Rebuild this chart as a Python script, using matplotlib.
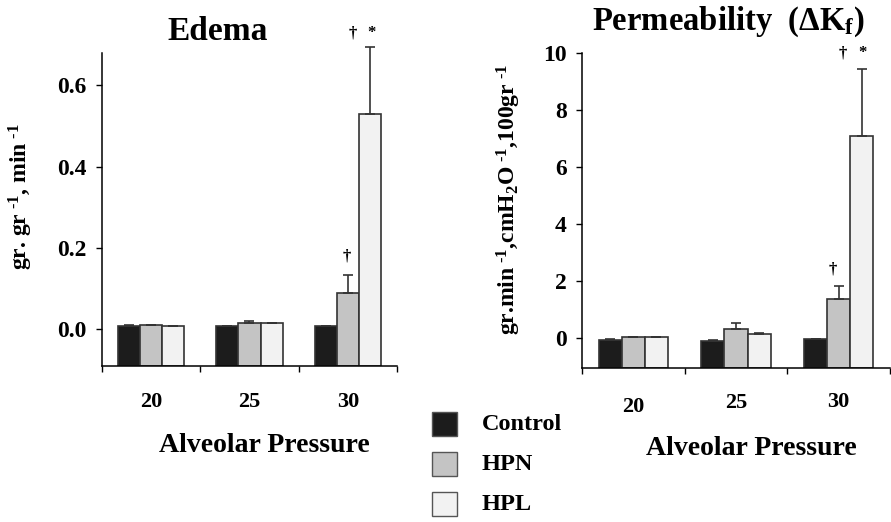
import matplotlib
matplotlib.use("Agg")
import matplotlib.pyplot as plt
import numpy as np

# data
pressures = ["20", "25", "30"]
groups = ["Control", "HPN", "HPL"]
colors = ["#1c1c1c", "#c4c4c4", "#f2f2f2"]

edema = {"Control": [0.007, 0.007, 0.007],
         "HPN": [0.011, 0.016, 0.090],
         "HPL": [0.007, 0.016, 0.529]}
edema_err = {"Control": [0.003, 0.0, 0.0],
             "HPN": [0.0, 0.004, 0.043],
             "HPL": [0.0, 0.0, 0.166]}

perm = {"Control": [-0.05, -0.09, -0.03],
        "HPN": [0.03, 0.32, 1.37],
        "HPL": [0.03, 0.14, 7.10]}
perm_err = {"Control": [0.02, 0.02, 0.02],
            "HPN": [0.03, 0.23, 0.47],
            "HPL": [0.03, 0.06, 2.35]}

plt.rcParams['font.family'] = 'Liberation Serif'
plt.rcParams['font.weight'] = 'bold'
plt.rcParams['mathtext.fontset'] = 'custom'
plt.rcParams['mathtext.rm'] = 'Liberation Serif:bold'
plt.rcParams['mathtext.it'] = 'Liberation Serif:bold'
plt.rcParams['mathtext.bf'] = 'Liberation Serif:bold'

fig = plt.figure(figsize=(8.91, 5.22), dpi=100)
ax1 = fig.add_axes([0.1145, 0.299, 0.331, 0.6])
ax2 = fig.add_axes([0.653, 0.2945, 0.346, 0.6035])

width = 0.225
x = np.arange(len(pressures))


def draw(ax, vals, errs, ymin, ymax, yticks, ylabels):
    for i, g in enumerate(groups):
        pos = x + (i - 1) * width
        v = np.array(vals[g])
        ax.bar(pos, v - ymin, width, bottom=ymin, color=colors[i],
               edgecolor="#333333", linewidth=1.2, zorder=2)
        e = np.array(errs[g])
        ax.errorbar(pos, v, yerr=[np.zeros_like(e), e], fmt="none",
                    ecolor="#333333", elinewidth=1.2, capsize=3.5,
                    capthick=1.2, clip_on=False, zorder=3)
    ax.set_xlim(-0.5, 2.5)
    ax.set_ylim(ymin, ymax)
    ax.set_yticks(yticks)
    ax.set_yticklabels(ylabels, fontsize=17, fontweight='bold')
    ax.set_xticks([-0.5, 0.5, 1.5, 2.5])
    ax.set_xticklabels([])
    ax.spines['top'].set_visible(False)
    ax.spines['right'].set_visible(False)
    ax.spines['left'].set_linewidth(1.1)
    ax.spines['bottom'].set_linewidth(1.1)
    ax.tick_params(axis='y', length=4, width=1.0, pad=7)
    ax.tick_params(axis='x', length=4, width=1.0)


draw(ax1, edema, edema_err, -0.09, 0.68, [0.0, 0.2, 0.4, 0.6],
     ["0.0", "0.2", "0.4", "0.6"])
draw(ax2, perm, perm_err, -1.05, 10, [0, 2, 4, 6, 8, 10],
     ["0", "2", "4", "6", "8", "10"])

# category labels under the axes
for ax, offs in [(ax1, [-0.082, -0.082, -0.082]), (ax2, [-0.092, -0.078, -0.075])]:
    for i, p in enumerate(pressures):
        ax.text(i, offs[i], p, transform=ax.get_xaxis_transform(),
                ha='center', va='top', fontsize=16, fontweight='bold')
    ax.text(0.55, -0.215, "Alveolar Pressure", transform=ax.transAxes,
            ha='center', va='top', fontsize=20, fontweight='bold')

# titles
fig.text(218 / 891, 1 - 32 / 522, "Edema", ha='center', va='center',
         fontsize=24, fontweight='bold')
fig.text(728 / 891, 1 - 22 / 522, r"Permeability  (ΔK$_\mathrm{f}$)",
         ha='center', va='center', fontsize=23.5, fontweight='bold')

# y labels (hyphen-style superscripts like the original)
fig.text(21 / 891, 1 - 197 / 522, r"gr. gr$^{\ \text{-}1}$, min$^{\ \text{-}1}$",
         rotation=90, ha='center', va='center', fontsize=17, fontweight='bold')
fig.text(509 / 891, 1 - 199 / 522,
         r"gr.min$^{\ \text{-}1}$,cmH$_2$O$^{\ \text{-}1}$,100gr$^{\ \text{-}1}$",
         rotation=90, ha='center', va='center', fontsize=17, fontweight='bold')

# significance marks
ax1.text(1.99, 0.178, "†", ha='center', va='center', fontsize=12)
ax1.text(2.055, 0.728, "†", ha='center', va='center', fontsize=12, clip_on=False)
ax1.text(2.24, 0.728, "*", ha='center', va='center', fontsize=12, clip_on=False)
ax2.text(1.94, 2.4, "†", ha='center', va='center', fontsize=12)
ax2.text(2.035, 10.0, "†", ha='center', va='center', fontsize=12, clip_on=False)
ax2.text(2.23, 10.0, "*", ha='center', va='center', fontsize=12, clip_on=False)

# legend boxes
for i, g in enumerate(groups):
    yc = 1 - (424 + 40 * i) / 522
    fig.patches.append(plt.Rectangle((432 / 891, yc - 12 / 522), 25 / 891, 24 / 522,
                                     transform=fig.transFigure, facecolor=colors[i],
                                     edgecolor="#555555", linewidth=1.0))
    fig.text(482 / 891, yc, g, ha='left', va='center', fontsize=17.5,
             fontweight='bold')

fig.savefig("out.png", dpi=100)
